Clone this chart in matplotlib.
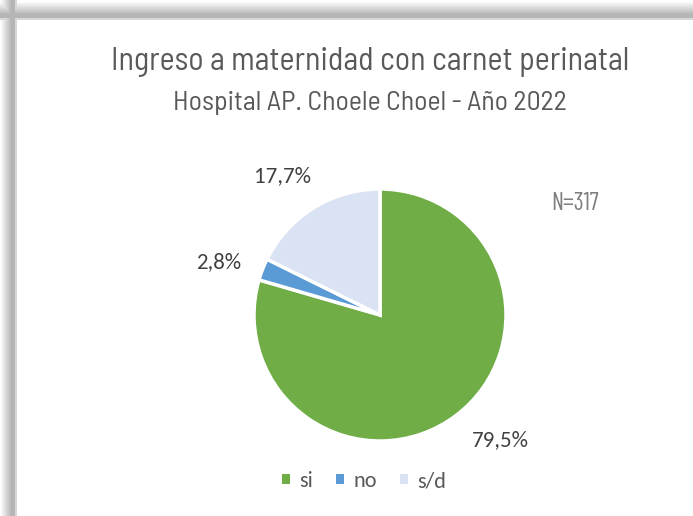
import numpy as np
import matplotlib
matplotlib.use("Agg")
import matplotlib.pyplot as plt
from matplotlib.patches import Patch

categories = ["si", "no", "s/d"]
values = [79.5, 2.8, 17.7]
value_labels = ["79,5%", "2,8%", "17,7%"]
colors = ["#70AD47", "#5B9BD5", "#DAE3F3"]
title = "Ingreso a maternidad con carnet perinatal"
subtitle = "Hospital AP. Choele Choel - Año 2022"
note = "N=317"

W, H = 693, 516
fig = plt.figure(figsize=(W / 100, H / 100), dpi=100)

# background with shadow frame
bg = np.ones((H, W, 3))
for x in range(0, 17):
    v = 1.0 - 0.29 * min(1, x / 11) if x < 15 else 0.85
    bg[:, x, :] = np.minimum(bg[:, x, :], v)
for y in range(0, 20):
    v = 1.0 - 0.29 * min(1, max(0, (y - 1) / 13)) if y < 18 else 0.85
    bg[y, :, :] = np.minimum(bg[y, :, :], v)
fig.figimage(bg, 0, 0, zorder=-10)

cond = ["Barlow Semi Condensed", "DejaVu Sans"]
body = ["Carlito", "DejaVu Sans"]
fig.text(370 / W, 1 - 62 / H, title, ha="center", va="center",
         fontsize=23, color="#595959", family=cond)
fig.text(370 / W, 1 - 103 / H, subtitle, ha="center", va="center",
         fontsize=20, color="#595959", family=cond)
fig.text(575 / W, 1 - 203 / H, note, ha="center", va="center",
         fontsize=17.5, color="#7F7F7F", family=["Barlow Condensed", "DejaVu Sans"])

cx, cy, r = 380, 315, 126
ax = fig.add_axes([(cx - r) / W, (H - cy - r) / H, 2 * r / W, 2 * r / H])
ax.set_facecolor("none")
wedges, _ = ax.pie(values, colors=colors, startangle=90, counterclock=False,
                   radius=1, wedgeprops=dict(edgecolor="white", linewidth=2.5))
ax.set_xlim(-1, 1)
ax.set_ylim(-1, 1)
ax.set_aspect("equal")
ax.axis("off")

offsets = [6.9, 3.1, 3.1]
dists = [1.375, 1.35, 1.345]
for w, lab, off, d in zip(wedges, value_labels, offsets, dists):
    ang = np.deg2rad((w.theta1 + w.theta2) / 2 + off)
    ax.text(d * np.cos(ang), d * np.sin(ang), lab, ha="center", va="center",
            fontsize=16.5, color="#404040", family=body, clip_on=False)

handles = [Patch(facecolor=c, edgecolor="none") for c in colors]
leg = fig.legend(handles, categories, loc="center", bbox_to_anchor=(364 / W, 1 - 481 / H),
                 ncol=3, frameon=False, handlelength=0.36, handleheight=0.36,
                 handletextpad=0.4, columnspacing=1.05,
                 prop=dict(family=body, size=16))
for t in leg.get_texts():
    t.set_color("#595959")

fig.savefig("out.png", dpi=100)
